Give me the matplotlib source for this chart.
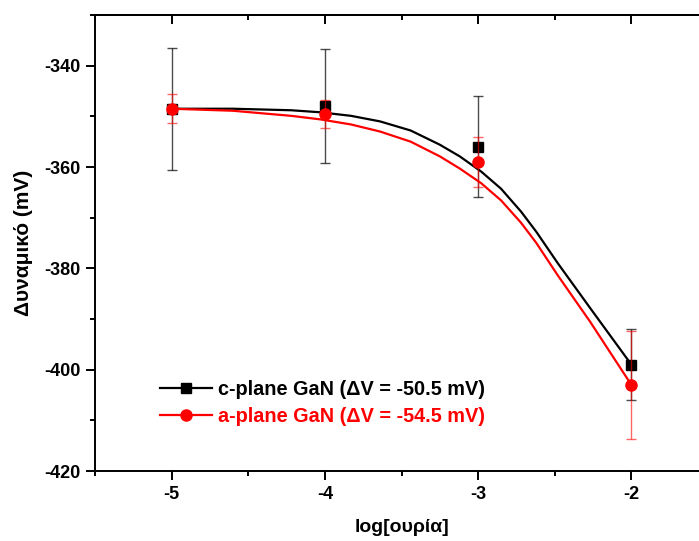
import matplotlib
matplotlib.use("Agg")
import matplotlib.pyplot as plt
from matplotlib.lines import Line2D
from matplotlib.ticker import MultipleLocator

plt.rcParams["font.family"] = ["Liberation Sans", "DejaVu Sans"]
plt.rcParams["font.weight"] = "bold"
plt.rcParams["axes.unicode_minus"] = False

# measured points
log_urea = [-5, -4, -3, -2]
c_plane = [-348.5, -348.0, -356.0, -399.0]
c_err = [12.0, 11.3, 10.0, 7.0]
a_plane = [-348.5, -349.5, -359.0, -403.0]
a_err = [2.9, 2.8, 5.0, 10.7]

# fitted curves
fit_x = [-5.0, -4.6, -4.22, -4.03, -3.83, -3.64, -3.44, -3.25, -3.12, -2.98, -2.85, -2.72, -2.62, -2.48, -2.27, -2.0]
c_fit = [-348.5, -348.5, -348.8, -349.2, -349.9, -351.0, -352.8, -355.6, -357.9, -360.9, -364.3, -368.8, -372.8, -379.0, -387.8, -399.0]
a_fit = [-348.5, -348.9, -349.9, -350.6, -351.6, -353.0, -355.0, -357.9, -360.3, -363.2, -366.6, -371.0, -375.0, -381.4, -390.5, -403.0]

labels = ["c-plane GaN (\u0394V = -50.5 mV)", "a-plane GaN (\u0394V = -54.5 mV)"]

fig = plt.figure(figsize=(6.99, 5.41), dpi=100)
ax = fig.add_axes([95 / 699, 70 / 541, 613 / 699, 456 / 541])

ax.plot(fit_x, c_fit, color="black", lw=1.6, zorder=2)
ax.errorbar(log_urea, c_plane, yerr=c_err, fmt="s", color="black", ms=7,
            ecolor=(0, 0, 0, 0.7), elinewidth=1, capsize=3.5, capthick=1, zorder=3)
ax.plot(fit_x, a_fit, color="red", lw=1.6, zorder=4)
ax.errorbar(log_urea, a_plane, yerr=a_err, fmt="o", color="red", ms=8,
            ecolor=(1, 0, 0, 0.6), elinewidth=1, capsize=3.5, capthick=1, zorder=5)

ax.set_xlim(-5.5, -1.5)
ax.set_ylim(-420, -330)
ax.xaxis.set_major_locator(MultipleLocator(1))
ax.xaxis.set_minor_locator(MultipleLocator(0.5))
ax.yaxis.set_major_locator(MultipleLocator(20))
ax.yaxis.set_minor_locator(MultipleLocator(10))
ax.tick_params(which="both", direction="out", width=1.4, labelsize=13, pad=4)
ax.tick_params(which="major", length=6.5)
ax.tick_params(which="minor", length=3.6)
for s in ax.spines.values():
    s.set_linewidth(1.4)

top = ax.secondary_xaxis("top")
top.xaxis.set_major_locator(MultipleLocator(1))
top.xaxis.set_minor_locator(MultipleLocator(0.5))
right = ax.secondary_yaxis("right")
right.yaxis.set_major_locator(MultipleLocator(20))
right.yaxis.set_minor_locator(MultipleLocator(10))
for sec in (top, right):
    sec.tick_params(which="both", direction="in", width=1.4, labelleft=False,
                    labelright=False, labeltop=False)
    sec.tick_params(which="major", length=6.5)
    sec.tick_params(which="minor", length=3.6)
    for s in sec.spines.values():
        s.set_linewidth(1.4)

ax.set_xlabel("log[\u03bf\u03c5\u03c1\u03af\u03b1]", fontsize=14, fontweight="bold", labelpad=12)
ax.set_ylabel("\u0394\u03c5\u03bd\u03b1\u03bc\u03b9\u03ba\u03cc (mV)", fontsize=15, fontweight="bold", labelpad=8)

handles = [Line2D([], [], color="black", marker="s", ms=7, lw=1.6),
           Line2D([], [], color="red", marker="o", ms=8, lw=1.6)]
leg = ax.legend(handles, labels, loc="lower left", bbox_to_anchor=(0.09, 0.078),
                frameon=False, fontsize=14.3, handlelength=2.6, handletextpad=0.3,
                labelspacing=0.38, borderpad=0)
for t, c in zip(leg.get_texts(), ["black", "red"]):
    t.set_color(c)

fig.savefig("out.png", dpi=100)
